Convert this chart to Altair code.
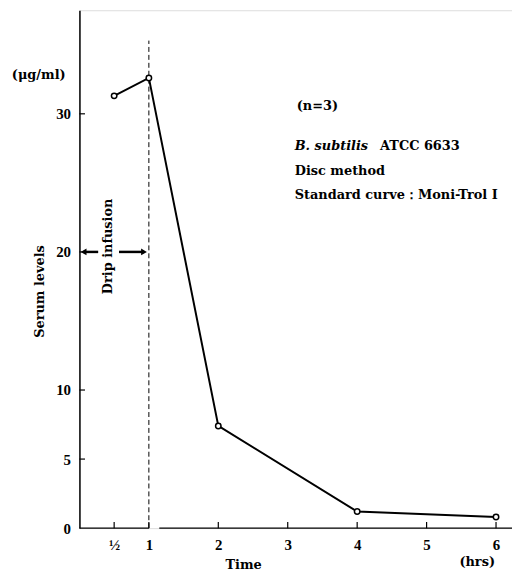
import altair as alt
import pandas as pd

# data
time_hrs = [0.5, 1, 2, 4, 6]
serum = [31.3, 32.6, 7.4, 1.2, 0.8]
x_ticks = [0.5, 1, 2, 3, 4, 5, 6]
y_ticks = [0, 5, 10, 20, 30]

FONT = "Liberation Serif"
FONT2 = "DejaVu Serif"
XMAX = 6.23
YMAX = 37.5

df = pd.DataFrame({"t": time_hrs, "v": serum})
xs = alt.Scale(domain=[0, XMAX], nice=False, zero=False)
ys = alt.Scale(domain=[0, YMAX], nice=False)

base = alt.Chart(df)

line = base.mark_line(color="black", strokeWidth=2).encode(
    x=alt.X("t:Q", scale=xs,
            axis=alt.Axis(values=x_ticks, title="Time", domain=False, ticks=False, tickSize=0,
                          grid=False, labelPadding=10, labelFontSize=15, labelFont=FONT,
                          labelFontWeight="bold", labelColor="black",
                          labelExpr="datum.value == 0.5 ? '½' : format(datum.value, 'd')",
                          titleFont=FONT2, titleFontSize=13, titleFontWeight="bold",
                          titleX=165, titleY=37, titleBaseline="middle", titleColor="black")),
    y=alt.Y("v:Q", scale=ys,
            axis=alt.Axis(values=y_ticks, title="Serum levels", domain=True, domainColor="black",
                          domainWidth=1.5, ticks=False, tickSize=0, grid=False, labelPadding=9,
                          labelFontSize=15, labelFont=FONT, labelFontWeight="bold",
                          labelColor="black", titleFont=FONT2, titleFontSize=13,
                          titleFontWeight="bold", titleAngle=-90, titleX=-40, titleY=283,
                          titleAlign="center", titleBaseline="middle", titleColor="black")),
)
pts = base.mark_point(shape="circle", size=30, filled=True, fill="white", stroke="black",
                      strokeWidth=1.5, opacity=1).encode(x=alt.X("t:Q", scale=xs), y=alt.Y("v:Q", scale=ys))

# x axis line with gap after 1
xaxis_df = pd.DataFrame({"a": [0, 1.15], "b": [1.0, XMAX], "y": [0, 0]})
xaxis = alt.Chart(xaxis_df).mark_rule(color="black", strokeWidth=1.5).encode(
    x=alt.X("a:Q", scale=xs), x2="b:Q", y=alt.Y("y:Q", scale=ys))

# inward ticks
xt_df = pd.DataFrame({"t": x_ticks, "y0": [0] * len(x_ticks), "y1": [0.45] * len(x_ticks)})
xt = alt.Chart(xt_df).mark_rule(color="black", strokeWidth=1.2).encode(
    x=alt.X("t:Q", scale=xs), y=alt.Y("y0:Q", scale=ys), y2="y1:Q")
yt_df = pd.DataFrame({"v": y_ticks[1:], "x0": [0] * 4, "x1": [0.08] * 4})
yt = alt.Chart(yt_df).mark_rule(color="black", strokeWidth=1.2).encode(
    y=alt.Y("v:Q", scale=ys), x=alt.X("x0:Q", scale=xs), x2="x1:Q")

# dashed infusion end line
dash_df = pd.DataFrame({"t": [1], "y0": [0], "y1": [35.3]})
dash = alt.Chart(dash_df).mark_rule(color="black", strokeWidth=1, strokeDash=[5, 3]).encode(
    x=alt.X("t:Q", scale=xs), y=alt.Y("y0:Q", scale=ys), y2="y1:Q")

# arrows
arr_df = pd.DataFrame({"a": [0.06, 0.57], "b": [0.27, 0.93], "y": [20, 20]})
arr = alt.Chart(arr_df).mark_rule(color="black", strokeWidth=2.5).encode(
    x=alt.X("a:Q", scale=xs), x2="b:Q", y=alt.Y("y:Q", scale=ys))
head_df = pd.DataFrame({"x": [0.06, 0.93], "y": [20, 20], "s": ["triangle-left", "triangle-right"]})
heads = alt.Chart(head_df).mark_point(filled=True, color="black", size=45, opacity=1).encode(
    x=alt.X("x:Q", scale=xs), y=alt.Y("y:Q", scale=ys),
    shape=alt.Shape("s:N", scale=None))

drip = alt.Chart(pd.DataFrame({"x": [0.41], "y": [20.4], "txt": ["Drip infusion"]})).mark_text(
    angle=270, font=FONT2, fontSize=13, fontWeight="bold", color="black",
    align="center", baseline="middle").encode(
    x=alt.X("x:Q", scale=xs), y=alt.Y("y:Q", scale=ys), text="txt:N")

def label(txt, x, y, size=13, style="normal", align="left"):
    return alt.Chart(pd.DataFrame({"txt": [txt]})).mark_text(
        font=FONT2, fontSize=size, fontWeight="bold", fontStyle=style, color="black",
        align=align, baseline="middle").encode(
        x=alt.value(x), y=alt.value(y), text="txt:N")

notes = [
    label("(μg/ml)", -41, 65, 13, align="center"),
    label("(n=3)", 219, 97),
    label("B. subtilis", 217, 137, style="italic"),
    label("ATCC  6633", 303, 137),
    label("Disc method", 217, 162),
    label("Standard curve：Moni-Trol  Ⅰ", 217, 186),
    label("(hrs)", 383, 556, 13),
]

chart = alt.layer(dash, xaxis, xt, yt, line, pts, arr, heads, drip, *notes).properties(
    width=436, height=522,
    autosize=alt.AutoSizeParams(type="none"),
    padding={"left": 72, "top": 0, "right": 0, "bottom": 46},
).configure_view(stroke=None).configure(background="white")

chart.save("out.html", embed_options={"renderer": "svg", "actions": False})
